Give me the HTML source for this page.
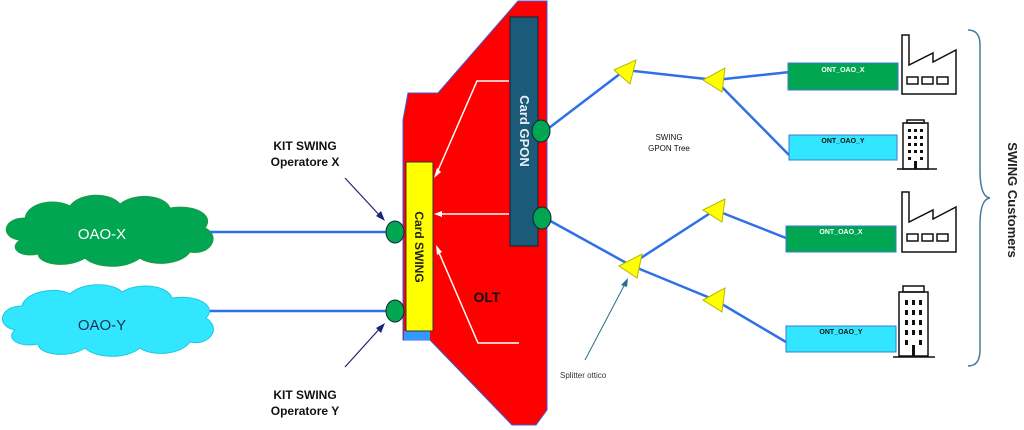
<!DOCTYPE html>
<html><head><style>
body{margin:0;background:#fff;}
svg{display:block;font-family:"Liberation Sans",sans-serif;}
</style></head><body>
<svg width="1024" height="430" viewBox="0 0 1024 430" xmlns="http://www.w3.org/2000/svg">
<!-- clouds -->
<g fill="#00a651" stroke="#1e9a44">
<path d="M20,240 C0,238 2,218 25,218 C28,202 55,198 70,206 C80,192 110,192 120,204 C135,192 165,195 170,208 C195,204 215,215 205,228 C222,236 210,256 190,252 C180,266 150,266 140,258 C125,270 95,268 85,258 C70,268 40,266 38,254 C20,258 8,248 20,240 Z"/>
</g>
<g fill="#33e6ff" stroke="#1fc7e0">
<path d="M15,330 C-5,326 0,306 22,306 C25,292 55,286 70,294 C82,282 112,282 122,292 C138,282 168,285 172,298 C197,294 218,306 206,318 C222,328 210,346 190,342 C180,356 150,356 140,348 C125,360 95,358 85,348 C70,358 40,356 38,344 C18,348 5,338 15,330 Z"/>
</g>
<text x="102" y="239" font-size="15" fill="#fff" text-anchor="middle">OAO-X</text>
<text x="102" y="330" font-size="15" fill="#1a3050" text-anchor="middle">OAO-Y</text>
<!-- lines to ports -->
<g stroke="#2f6fe8" stroke-width="2.5">
<line x1="210" y1="232" x2="390" y2="232"/>
<line x1="210" y1="311" x2="390" y2="311"/>
<line x1="545" y1="131" x2="625" y2="70"/>
<line x1="625" y1="70" x2="715" y2="80"/>
<line x1="715" y1="80" x2="790" y2="72"/>
<line x1="715" y1="80" x2="789" y2="155"/>
<line x1="545" y1="218" x2="630" y2="265"/>
<line x1="630" y1="265" x2="715" y2="210"/>
<line x1="630" y1="265" x2="715" y2="300"/>
<line x1="715" y1="210" x2="786" y2="238"/>
<line x1="715" y1="300" x2="786" y2="342"/>
</g>
<!-- OLT -->
<polygon points="518,1 547,1 547,410 536,425 512,425 430,340 403,340 403,120 408,93 438,93" fill="#ff0000" stroke="#3b5bdb" stroke-width="1"/>
<rect x="404" y="331" width="26" height="9" fill="#3399ff"/>
<rect x="510" y="17" width="28" height="229" fill="#1b5a78" stroke="#123" stroke-width="1"/>
<text transform="translate(520,131) rotate(90)" font-size="13" font-weight="bold" fill="#e8f0f5" text-anchor="middle">Card GPON</text>
<rect x="406" y="162" width="27" height="169" fill="#ffff00" stroke="#333" stroke-width="1"/>
<text transform="translate(415,247) rotate(90)" font-size="12" font-weight="bold" fill="#222" text-anchor="middle">Card SWING</text>
<text x="487" y="302" font-size="14" font-weight="bold" fill="#111" text-anchor="middle">OLT</text>
<!-- white arrows -->
<g stroke="#fff" stroke-width="1.5" fill="none">
<polyline points="509,81 477,81 436,175"/>
<line x1="509" y1="214" x2="436" y2="214"/>
<polyline points="519,343 478,343 437,248"/>
</g>
<g fill="#fff">
<polygon points="434,178 437,168 441,172"/>
<polygon points="434,214 442,211 442,217"/>
<polygon points="436,245 437,255 442,252"/>
</g>
<!-- ports -->
<g fill="#00a651" stroke="#123" stroke-width="1">
<ellipse cx="541" cy="131" rx="9" ry="11"/>
<ellipse cx="542" cy="218" rx="9" ry="11"/>
<ellipse cx="395" cy="232" rx="9" ry="11"/>
<ellipse cx="395" cy="311" rx="9" ry="11"/>
</g>
<!-- triangles -->
<g fill="#ffff00" stroke="#b8b800" stroke-width="1">
<polygon points="614,70 636,60 630,84"/>
<polygon points="703,80 725,68 722,92"/>
<polygon points="619,266 642,254 637,278"/>
<polygon points="703,210 725,199 722,222"/>
<polygon points="703,300 725,288 722,312"/>
</g>
<!-- ONTs -->
<rect x="788" y="63" width="110" height="27" fill="#00a651" stroke="#3a7bd5"/>
<text x="843" y="72" font-size="7" font-weight="bold" fill="#fff" text-anchor="middle">ONT_OAO_X</text>
<rect x="789" y="135" width="108" height="25" fill="#33e6ff" stroke="#3a7bd5"/>
<text x="843" y="143" font-size="7" font-weight="bold" fill="#111" text-anchor="middle">ONT_OAO_Y</text>
<rect x="786" y="226" width="110" height="26" fill="#00a651" stroke="#3a7bd5"/>
<text x="841" y="234" font-size="7" font-weight="bold" fill="#fff" text-anchor="middle">ONT_OAO_X</text>
<rect x="786" y="326" width="110" height="26" fill="#33e6ff" stroke="#3a7bd5"/>
<text x="841" y="334" font-size="7" font-weight="bold" fill="#111" text-anchor="middle">ONT_OAO_Y</text>
<!-- buildings -->
<g fill="none" stroke="#111" stroke-width="1.5">
<path d="M902,94 V35 H909 V65 L933,53 V62 L956,50 V94 Z"/>
<rect x="907" y="77" width="11" height="7"/><rect x="922" y="77" width="11" height="7"/><rect x="937" y="77" width="11" height="7"/>
<path d="M902,252 V192 H909 V222 L933,210 V219 L956,207 V252 Z"/>
<rect x="907" y="234" width="11" height="7"/><rect x="922" y="234" width="11" height="7"/><rect x="937" y="234" width="11" height="7"/>
<rect x="903" y="123" width="25" height="46"/><rect x="907" y="120" width="17" height="3"/>
<line x1="897" y1="169" x2="937" y2="169"/>
<rect x="899" y="292" width="29" height="64"/><rect x="903" y="286" width="21" height="6"/>
<line x1="893" y1="357" x2="935" y2="357"/>
</g>
<g fill="#111">
<rect x="908" y="129" width="3" height="3"/><rect x="914" y="129" width="3" height="3"/><rect x="920" y="129" width="3" height="3"/>
<rect x="908" y="136" width="3" height="3"/><rect x="914" y="136" width="3" height="3"/><rect x="920" y="136" width="3" height="3"/>
<rect x="908" y="143" width="3" height="3"/><rect x="914" y="143" width="3" height="3"/><rect x="920" y="143" width="3" height="3"/>
<rect x="908" y="150" width="3" height="3"/><rect x="914" y="150" width="3" height="3"/><rect x="920" y="150" width="3" height="3"/>
<rect x="908" y="157" width="3" height="3"/><rect x="914" y="161" width="3" height="8"/><rect x="920" y="157" width="3" height="3"/>
<rect x="905" y="300" width="3" height="5"/><rect x="912" y="300" width="3" height="5"/><rect x="919" y="300" width="3" height="5"/>
<rect x="905" y="310" width="3" height="5"/><rect x="912" y="310" width="3" height="5"/><rect x="919" y="310" width="3" height="5"/>
<rect x="905" y="320" width="3" height="5"/><rect x="912" y="320" width="3" height="5"/><rect x="919" y="320" width="3" height="5"/>
<rect x="905" y="330" width="3" height="5"/><rect x="912" y="330" width="3" height="5"/><rect x="919" y="330" width="3" height="5"/>
<rect x="905" y="340" width="3" height="5"/><rect x="912" y="345" width="3" height="11"/><rect x="919" y="340" width="3" height="5"/>
</g>
<!-- brace -->
<path d="M968,30 Q980,30 980,45 V170 Q980,197 990,198 Q980,199 980,225 V350 Q980,366 968,366" fill="none" stroke="#4a7a9a" stroke-width="1.5"/>
<text transform="translate(1008,200) rotate(90)" font-size="13" font-weight="bold" fill="#222" text-anchor="middle">SWING Customers</text>
<!-- labels -->
<text x="305" y="150" font-size="12" font-weight="bold" fill="#111" text-anchor="middle">KIT SWING</text>
<text x="305" y="166" font-size="12" font-weight="bold" fill="#111" text-anchor="middle">Operatore X</text>
<text x="305" y="399" font-size="12" font-weight="bold" fill="#111" text-anchor="middle">KIT SWING</text>
<text x="305" y="415" font-size="12" font-weight="bold" fill="#111" text-anchor="middle">Operatore Y</text>
<g stroke="#1a237e" stroke-width="1.2">
<line x1="345" y1="178" x2="382" y2="218"/>
<line x1="345" y1="367" x2="382" y2="326"/>
</g>
<polygon points="385,221 376,216 381,211" fill="#1a237e"/>
<polygon points="385,323 376,328 381,333" fill="#1a237e"/>
<text x="669" y="140" font-size="8" fill="#111" text-anchor="middle">SWING</text>
<text x="669" y="151" font-size="8" fill="#111" text-anchor="middle">GPON Tree</text>
<line x1="585" y1="360" x2="626" y2="282" stroke="#2a6f8a" stroke-width="1"/>
<polygon points="628,278 621,285 627,287" fill="#2a6f8a"/>
<text x="560" y="378" font-size="8" fill="#333">Splitter ottico</text>
</svg>
</body></html>
